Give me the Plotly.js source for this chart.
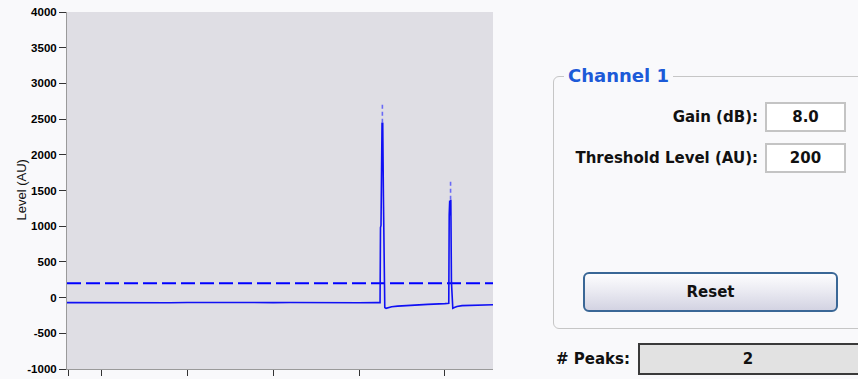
<!DOCTYPE html>
<html>
<head>
<meta charset="utf-8">
<script src="https://cdn.plot.ly/plotly-3.0.1.min.js"></script>
<style>
  html, body { margin: 0; padding: 0; background: #f9f9fb; overflow: hidden; }
  #wrap { position: relative; width: 858px; height: 379px; }
  #chart { position: absolute; left: 0; top: 0; width: 858px; height: 379px; }
  .ui { position: absolute; font-family: "DejaVu Sans", sans-serif; font-weight: bold; color: #111; box-sizing: border-box; }
  #group { left: 553px; top: 76px; width: 330px; height: 253px; border: 1px solid #c6c6c6; border-radius: 6px; }
  #groupTitle { left: 564px; top: 65px; padding: 0 4px; background: #f9f9fb; color: #1c5ad8; font-size: 18px; line-height: 22px; }
  .lbl { font-size: 15px; line-height: 18px; text-align: right; width: 220px; }
  .box { background: #fff; border: 2px solid #c4c4c4; font-size: 15px; text-align: center; }
  #reset { left: 583px; top: 272px; width: 255px; height: 40px; border: 2px solid #3a6796; border-radius: 6px;
           background: linear-gradient(#fdfdfe, #e9e9f1 50%, #d3d3e2); font-size: 15px; line-height: 36px; text-align: center; }
  #peaksBox { left: 638px; top: 343px; width: 224px; height: 32px; background: #e2e2e2; border: 2px solid #3a3a3a;
              font-size: 15px; line-height: 28px; text-align: center; padding-right: 4px; }
</style>
</head>
<body>
<div id="wrap">
  <div id="chart"></div>
  <div class="ui" id="group"></div>
  <div class="ui" id="groupTitle"></div>
  <div class="ui lbl" id="gainLbl" style="left:538px; top:108px;"></div>
  <div class="ui box" id="gainBox" style="left:765px; top:102px; width:81px; height:30px; line-height:26px;"></div>
  <div class="ui lbl" id="thrLbl" style="left:538px; top:149px;"></div>
  <div class="ui box" id="thrBox" style="left:765px; top:143px; width:81px; height:30px; line-height:26px;"></div>
  <div class="ui" id="reset"></div>
  <div class="ui" id="peaksLbl" style="left:556px; top:350px; font-size:15px; line-height:18px;"></div>
  <div class="ui" id="peaksBox"></div>
</div>
<script>
// ---- data ----
const sampleX = [-40, -20, 0, 20, 40, 60, 80, 100, 120, 140, 160, 180, 200, 220, 240, 260, 280, 300, 320,
  324.5, 325.0, 325.6, 326.8, 327.6, 328.4, 330.0, 331.5, 334, 338, 345, 360, 380, 400,
  404.5, 405.0, 405.6, 406.2, 406.9, 407.6, 408.4, 409.2, 411, 414, 420, 435, 456];
const levelAU = [-70, -72, -68, -71, -69, -70, -73, -68, -70, -71, -69, -72, -70, -68, -71, -70, -69, -72, -70,
  -70, 980, 1010, 2440, 2450, 1430, -140, -150, -140, -128, -120, -105, -95, -85,
  -80, 1160, 1360, 1150, 1370, 220, -140, -150, -140, -125, -112, -104, -100];
const peakX = [327.2, 406.6];
const peakBase = [2450, 1370];
const peakTop = [2720, 1650];
const thresholdLevel = 200;
const gainDB = "8.0";
const peakCount = 2;
const yTicks = [-1000, -500, 0, 500, 1000, 1500, 2000, 2500, 3000, 3500, 4000];
const yTickText = ["-1000", "-500", "0", "500", "1000", "1500", "2000", "2500", "3000", "3500", "4000"];
const xTicks = [-38, 0, 100, 200, 300, 400];
const xRange = [-40, 456];
const yRange = [-1000, 4000];

// ---- chart ----
const traces = [
  { x: [xRange[0], xRange[1]], y: [thresholdLevel, thresholdLevel], mode: 'lines',
    line: { color: '#0000ff', width: 2, dash: '14px,5px' }, hoverinfo: 'skip' },
  { x: sampleX, y: levelAU, mode: 'lines', line: { color: '#1010f4', width: 1.6 }, hoverinfo: 'skip' }
];
for (let i = 0; i < peakX.length; i++) {
  traces.push({ x: [peakX[i], peakX[i]], y: [peakBase[i], peakTop[i]], mode: 'lines',
    line: { color: '#6a6af6', width: 1.6, dash: '4px,3px' }, hoverinfo: 'skip' });
}
const layout = {
  width: 858, height: 379,
  margin: { l: 67, r: 365, t: 12, b: 10 },
  paper_bgcolor: 'rgba(0,0,0,0)', plot_bgcolor: '#dfdee4',
  showlegend: false,
  font: { family: 'Liberation Sans, Arial, sans-serif', color: '#111' },
  xaxis: { range: xRange, tickmode: 'array', tickvals: xTicks, showticklabels: false,
    ticks: 'outside', ticklen: 6, tickcolor: '#333', showgrid: false, zeroline: false,
    showline: true, linecolor: '#9a9a9a', linewidth: 1 },
  yaxis: { range: yRange, tickmode: 'array', tickvals: yTicks, ticktext: yTickText, ticks: 'outside', ticklen: 7,
    tickcolor: '#333', showgrid: false, zeroline: false, showline: true, linecolor: '#9a9a9a', linewidth: 1,
    tickfont: { family: 'Liberation Sans, Arial, sans-serif', size: 11.5, weight: 700, color: '#000' } },
  annotations: [{ text: 'Level (AU)', xref: 'paper', yref: 'paper', x: 0, y: 0.5, xshift: -46,
    xanchor: 'center', yanchor: 'middle', textangle: -90, showarrow: false,
    font: { family: 'Liberation Sans, Arial, sans-serif', size: 13, color: '#111' } }]
};
Plotly.newPlot('chart', traces, layout, { staticPlot: true, displayModeBar: false });

// ---- panel text ----
document.getElementById('groupTitle').textContent = 'Channel 1';
document.getElementById('gainLbl').textContent = 'Gain (dB):';
document.getElementById('gainBox').textContent = gainDB;
document.getElementById('thrLbl').textContent = 'Threshold Level (AU):';
document.getElementById('thrBox').textContent = String(thresholdLevel);
document.getElementById('reset').textContent = 'Reset';
document.getElementById('peaksLbl').textContent = '# Peaks:';
document.getElementById('peaksBox').textContent = String(peakCount);
</script>
</body>
</html>
